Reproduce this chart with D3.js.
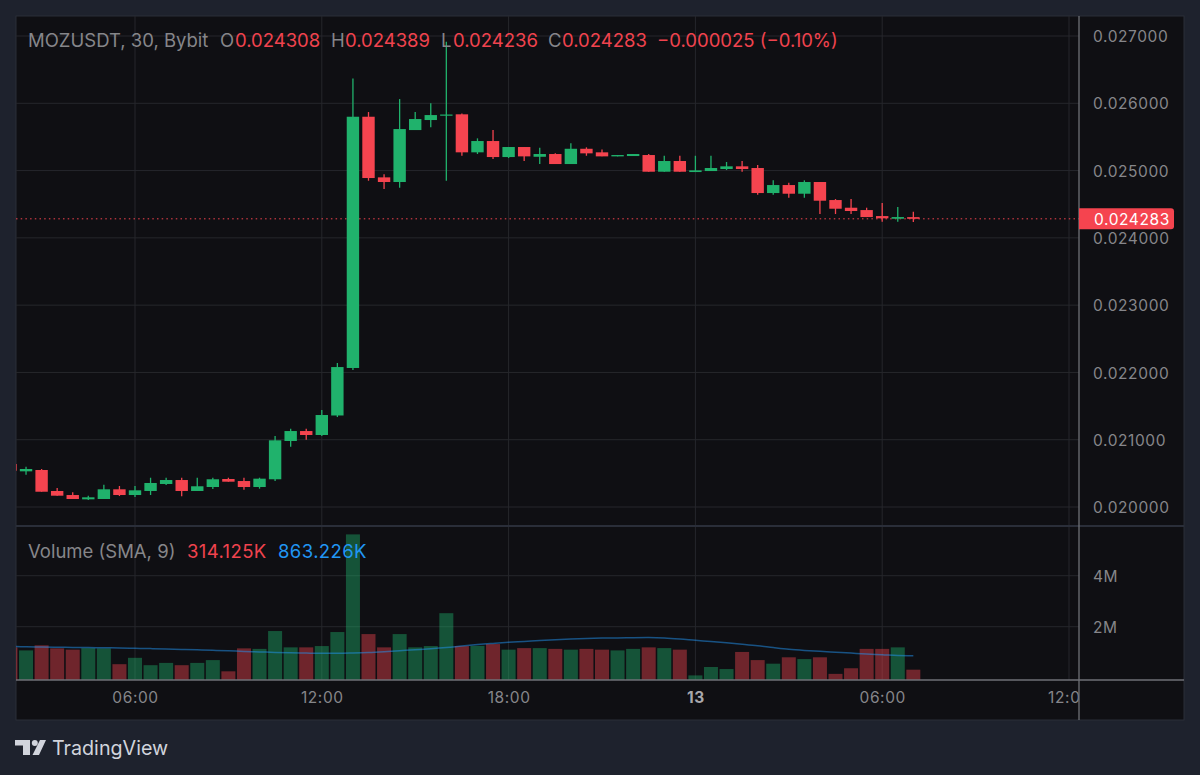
<!DOCTYPE html>
<html>
<head>
<meta charset="utf-8">
<script src="https://cdn.jsdelivr.net/npm/d3@7"></script>
<style>
    html, body { margin: 0; padding: 0; background: #1e222d; }
    svg { display: block; }
    text { font-family: Inter, "Noto Sans", sans-serif; }
</style>
</head>
<body>
<svg id="canvas" width="1200" height="775"></svg>
<script>
//Half hour slots counted from 00:00 on the 12th, first visible bar is 02:00
const firstSlot = 4;

const opens = [0.020639, 0.020530, 0.020550, 0.020238, 0.020178, 0.020114, 0.020119, 0.020263, 0.020178, 0.020238, 0.020342, 0.020401, 0.020238, 0.020297, 0.020416, 0.020386, 0.020297, 0.020412, 0.020981, 0.021129, 0.021070, 0.021360, 0.022066, 0.025800, 0.024899, 0.024830, 0.025602, 0.025751, 0.025815, 0.025836, 0.025271, 0.025439, 0.025201, 0.025350, 0.025205, 0.025246, 0.025097, 0.025324, 0.025271, 0.025211, 0.025216, 0.025231, 0.024983, 0.025142, 0.024978, 0.024993, 0.025023, 0.025063, 0.025038, 0.024666, 0.024785, 0.024656, 0.024830, 0.024562, 0.024448, 0.024413, 0.024324, 0.024284, 0.024308];
const highs = [0.020654, 0.020599, 0.020565, 0.020282, 0.020218, 0.020168, 0.020331, 0.020312, 0.020312, 0.020435, 0.020435, 0.020435, 0.020435, 0.020435, 0.020435, 0.020435, 0.020435, 0.021055, 0.021164, 0.021164, 0.021441, 0.022140, 0.026368, 0.025870, 0.024944, 0.026063, 0.025870, 0.025999, 0.026914, 0.025850, 0.025479, 0.025602, 0.025350, 0.025350, 0.025339, 0.025256, 0.025405, 0.025345, 0.025315, 0.025231, 0.025246, 0.025246, 0.025220, 0.025220, 0.025220, 0.025220, 0.025127, 0.025142, 0.025082, 0.024855, 0.024819, 0.024855, 0.024830, 0.024577, 0.024577, 0.024448, 0.024517, 0.024458, 0.024389];
const lows = [0.020535, 0.020480, 0.020227, 0.020168, 0.020119, 0.020104, 0.020119, 0.020163, 0.020149, 0.020178, 0.020327, 0.020159, 0.020238, 0.020267, 0.020376, 0.020257, 0.020272, 0.020386, 0.020896, 0.021000, 0.021055, 0.021337, 0.022036, 0.024849, 0.024725, 0.024745, 0.025602, 0.025642, 0.024849, 0.025220, 0.025246, 0.025171, 0.025186, 0.025142, 0.025097, 0.025097, 0.025097, 0.025220, 0.025211, 0.025211, 0.025216, 0.024983, 0.024983, 0.024983, 0.024978, 0.024993, 0.025008, 0.024983, 0.024641, 0.024641, 0.024596, 0.024596, 0.024354, 0.024354, 0.024354, 0.024309, 0.024240, 0.024240, 0.024236];
const closes = [0.020539, 0.020565, 0.020227, 0.020168, 0.020119, 0.020144, 0.020263, 0.020178, 0.020248, 0.020357, 0.020401, 0.020238, 0.020308, 0.020412, 0.020376, 0.020297, 0.020421, 0.020991, 0.021129, 0.021070, 0.021367, 0.022080, 0.025800, 0.024889, 0.024830, 0.025617, 0.025766, 0.025825, 0.025833, 0.025271, 0.025439, 0.025201, 0.025350, 0.025211, 0.025246, 0.025097, 0.025324, 0.025256, 0.025211, 0.025231, 0.025246, 0.024983, 0.025142, 0.024983, 0.025003, 0.025038, 0.025063, 0.025023, 0.024666, 0.024785, 0.024656, 0.024830, 0.024552, 0.024433, 0.024399, 0.024309, 0.024290, 0.024309, 0.024283];

//Volume in millions
const volumes = [1.19, 1.07, 1.27, 1.15, 1.10, 1.16, 1.15, 0.53, 0.78, 0.49, 0.58, 0.49, 0.58, 0.69, 0.25, 1.15, 1.13, 1.83, 1.19, 1.19, 1.24, 1.79, 5.62, 1.71, 1.19, 1.71, 1.19, 1.24, 2.53, 1.24, 1.25, 1.32, 1.10, 1.16, 1.16, 1.13, 1.10, 1.13, 1.10, 1.07, 1.13, 1.19, 1.16, 1.10, 0.09, 0.42, 0.34, 1.01, 0.69, 0.55, 0.80, 0.73, 0.80, 0.15, 0.37, 1.13, 1.13, 1.19, 0.314];
const volumeSma = [1.224, 1.212, 1.204, 1.196, 1.188, 1.18, 1.173, 1.165, 1.153, 1.141, 1.125, 1.11, 1.094, 1.075, 1.055, 1.031, 1.012, 0.992, 0.976, 0.965, 0.957, 0.957, 0.969, 0.988, 1.02, 1.059, 1.098, 1.137, 1.184, 1.243, 1.298, 1.345, 1.388, 1.42, 1.455, 1.486, 1.514, 1.537, 1.553, 1.561, 1.569, 1.573, 1.557, 1.518, 1.467, 1.42, 1.369, 1.314, 1.255, 1.184, 1.118, 1.071, 1.035, 1, 0.965, 0.929, 0.902, 0.871, 0.863];

const priceTicks = [0.020, 0.021, 0.022, 0.023, 0.024, 0.025, 0.026, 0.027];
const volumeTicks = [2, 4];
const timeSlots = [12, 24, 36, 48, 60, 72];
const timeLabels = ["06:00", "12:00", "18:00", "13", "06:00", "12:00"];
const lastPrice = 0.024283;

//Colors
const paneColor = "#0f0f13";
const gridColor = "#26272c";
const borderColor = "#2a2e39";
const axisLineColor = "#6f7177";
const textColor = "#86868a";
const upColor = "#20b26c";
const downColor = "#f5444f";
const legendRed = "#f0434e";

const canvas = d3.select("#canvas");

//Panes
const paneLeft = 16, paneRight = 1079, outerRight = 1184, paneTop = 16, paneSplit = 526, volumeBottom = 680, paneBottom = 720;

const x = d3.scaleLinear().domain([12, 72]).range([135, 1069]);
const yPrice = d3.scaleLinear().domain([0.020, 0.027]).range([507, 36]);
const yVolume = d3.scaleLinear().domain([0, 4]).range([677.7, 575.7]);
const slotOf = (i) => firstSlot + i;

canvas.append("rect")
    .attr("x", paneLeft).attr("y", paneTop)
    .attr("width", outerRight - paneLeft).attr("height", paneBottom - paneTop)
    .attr("fill", paneColor)
    .attr("stroke", borderColor)
    .attr("stroke-width", 1);

const defs = canvas.append("defs");
defs.append("clipPath").attr("id", "price-clip").append("rect")
    .attr("x", paneLeft).attr("y", paneTop).attr("width", paneRight - paneLeft).attr("height", paneSplit - paneTop);
defs.append("clipPath").attr("id", "volume-clip").append("rect")
    .attr("x", paneLeft).attr("y", paneSplit).attr("width", paneRight - paneLeft).attr("height", volumeBottom - paneSplit);
defs.append("clipPath").attr("id", "time-clip").append("rect")
    .attr("x", paneLeft).attr("y", volumeBottom).attr("width", paneRight - paneLeft).attr("height", paneBottom - volumeBottom);

//Grid lines
const grid = canvas.append("g").attr("stroke", gridColor).attr("stroke-width", 1);
grid.selectAll(".grid-x")
    .data(timeSlots)
    .enter()
    .append("line")
    .attr("x1", d => x(d)).attr("x2", d => x(d))
    .attr("y1", paneTop).attr("y2", volumeBottom);
grid.selectAll(".grid-price")
    .data(priceTicks)
    .enter()
    .append("line")
    .attr("x1", paneLeft).attr("x2", paneRight)
    .attr("y1", d => yPrice(d)).attr("y2", d => yPrice(d));
grid.selectAll(".grid-volume")
    .data(volumeTicks)
    .enter()
    .append("line")
    .attr("x1", paneLeft).attr("x2", paneRight)
    .attr("y1", d => yVolume(d)).attr("y2", d => yVolume(d));

//Volume bars
const volumeWidth = 14;
const volumePane = canvas.append("g").attr("clip-path", "url(#volume-clip)");
volumePane.selectAll(".volume-bar")
    .data(volumes)
    .enter()
    .append("rect")
    .attr("class", "volume-bar")
    .attr("x", (d, i) => x(slotOf(i)) - volumeWidth / 2)
    .attr("y", d => yVolume(d))
    .attr("width", volumeWidth)
    .attr("height", d => volumeBottom - yVolume(d))
    .attr("fill", (d, i) => closes[i] >= opens[i] ? upColor : downColor)
    .attr("fill-opacity", 0.42);

const smaLine = d3.line()
    .x((d, i) => x(slotOf(i)))
    .y(d => yVolume(d))
    .curve(d3.curveMonotoneX);
volumePane.append("path")
    .attr("d", smaLine(volumeSma))
    .attr("fill", "none")
    .attr("stroke", "#2196f3")
    .attr("stroke-opacity", 0.5)
    .attr("stroke-width", 1.5);

//Last price line goes under the candles
canvas.append("line")
    .attr("x1", paneLeft).attr("x2", paneRight)
    .attr("y1", yPrice(lastPrice)).attr("y2", yPrice(lastPrice))
    .attr("stroke", downColor)
    .attr("stroke-width", 1)
    .attr("stroke-dasharray", "1.5 3.2");

//Candles
const candleWidth = 12.4;
const pricePane = canvas.append("g").attr("clip-path", "url(#price-clip)");
const candles = pricePane.selectAll(".candle")
    .data(opens)
    .enter()
    .append("g")
    .attr("class", "candle")
    .attr("fill", (d, i) => closes[i] >= d ? upColor : downColor)
    .attr("stroke", (d, i) => closes[i] >= d ? upColor : downColor);
candles.append("line")
    .attr("x1", (d, i) => x(slotOf(i))).attr("x2", (d, i) => x(slotOf(i)))
    .attr("y1", (d, i) => yPrice(highs[i]))
    .attr("y2", (d, i) => yPrice(lows[i]))
    .attr("stroke-width", 1.3);
candles.append("rect")
    .attr("x", (d, i) => x(slotOf(i)) - candleWidth / 2)
    .attr("y", (d, i) => yPrice(Math.max(d, closes[i])))
    .attr("width", candleWidth)
    .attr("height", (d, i) => Math.max(1, Math.abs(yPrice(d) - yPrice(closes[i]))))
    .attr("stroke", "none");

//Pane separators
canvas.append("line")
    .attr("x1", paneLeft).attr("x2", outerRight)
    .attr("y1", paneSplit).attr("y2", paneSplit)
    .attr("stroke", borderColor).attr("stroke-width", 2);
canvas.append("line")
    .attr("x1", paneLeft).attr("x2", outerRight)
    .attr("y1", volumeBottom).attr("y2", volumeBottom)
    .attr("stroke", axisLineColor).attr("stroke-width", 1.3);

//Axes
const priceAxis = d3.axisRight(yPrice)
    .tickValues(priceTicks)
    .tickFormat(d3.format(".6f"))
    .tickSize(0)
    .tickPadding(14);
const volumeAxis = d3.axisRight(yVolume)
    .tickValues(volumeTicks)
    .tickFormat(d => `${d}M`)
    .tickSize(0)
    .tickPadding(14);
const timeAxis = d3.axisBottom(x)
    .tickValues(timeSlots)
    .tickFormat((d, i) => timeLabels[i])
    .tickSize(0)
    .tickPadding(12);

const styleAxis = (g) => {
    g.select(".domain").remove();
    g.selectAll("text")
        .attr("fill", textColor)
        .style("font-size", "15.5px")
        .style("letter-spacing", "0.6px");
};
canvas.append("g").attr("transform", `translate(${paneRight},0.7)`).call(priceAxis).call(styleAxis);
canvas.append("g").attr("transform", `translate(${paneRight},0.7)`).call(volumeAxis).call(styleAxis);
//Last label of the time axis is cut by the price scale
canvas.append("g")
    .attr("clip-path", "url(#time-clip)")
    .append("g")
    .attr("transform", `translate(0,${volumeBottom})`)
    .call(timeAxis)
    .call(styleAxis)
    .selectAll("text")
    .filter(d => d === 48)
    .style("font-weight", 700)
    .attr("fill", "#a8a8ac");

canvas.append("line")
    .attr("x1", paneRight).attr("x2", paneRight)
    .attr("y1", paneTop).attr("y2", paneBottom)
    .attr("stroke", axisLineColor).attr("stroke-width", 1.3);

//Last price tag
const tagTop = yPrice(lastPrice) - 10.5;
canvas.append("path")
    .attr("d", `M${paneRight},${tagTop}h92a3,3 0 0 1 3,3v15a3,3 0 0 1 -3,3h-92z`)
    .attr("fill", downColor);
canvas.append("text")
    .attr("x", 1094)
    .attr("y", yPrice(lastPrice) + 6)
    .attr("fill", "#ffffff")
    .style("font-size", "15.5px")
    .style("letter-spacing", "0.6px")
    .text(d3.format(".6f")(lastPrice));

//Legends
const legendItems = [
    { x: 28, text: "MOZUSDT, 30, Bybit", fill: textColor },
    { x: 220, text: "O", fill: textColor },
    { x: 235, text: "0.024308", fill: legendRed },
    { x: 331, text: "H", fill: textColor },
    { x: 345, text: "0.024389", fill: legendRed },
    { x: 441, text: "L", fill: textColor },
    { x: 453, text: "0.024236", fill: legendRed },
    { x: 548, text: "C", fill: textColor },
    { x: 562, text: "0.024283", fill: legendRed },
    { x: 657, text: "\u22120.000025 (\u22120.10%)", fill: legendRed }
];
canvas.selectAll(".legend-item")
    .data(legendItems)
    .enter()
    .append("text")
    .attr("class", "legend-item")
    .attr("x", d => d.x)
    .attr("y", 46.5)
    .attr("fill", d => d.fill)
    .style("font-size", "18.5px")
    .text(d => d.text);

const volumeLegend = [
    { x: 28, text: "Volume (SMA, 9)", fill: textColor },
    { x: 187, text: "314.125K", fill: legendRed },
    { x: 278, text: "863.226K", fill: "#2196f3" }
];
canvas.selectAll(".volume-legend")
    .data(volumeLegend)
    .enter()
    .append("text")
    .attr("class", "volume-legend")
    .attr("x", d => d.x)
    .attr("y", 558)
    .attr("fill", d => d.fill)
    .style("font-size", "18.5px")
    .style("letter-spacing", (d, i) => i > 0 ? "0.4px" : null)
    .text(d => d.text);

//TradingView logo
const logo = canvas.append("g").attr("fill", "#d1d4dc");
logo.append("path").attr("d", "M15,740H30V755H23V745.5H15Z");
logo.append("circle").attr("cx", 34.8).attr("cy", 743).attr("r", 3);
logo.append("path").attr("d", "M40,740H46L39,755H32.5Z");
canvas.append("text")
    .attr("x", 52)
    .attr("y", 755)
    .attr("fill", "#d1d4dc")
    .style("font-size", "19.7px")
    .text("TradingView");
</script>
</body>
</html>
